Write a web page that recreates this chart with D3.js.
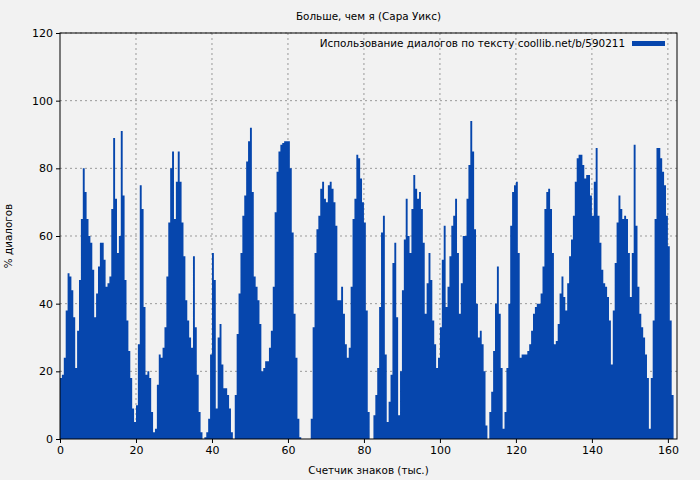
<!DOCTYPE html>
<html><head><meta charset="utf-8">
<script src="https://cdn.jsdelivr.net/npm/d3@7"></script>
<style>body{margin:0;background:#f2f2f2}svg{font-family:"DejaVu Sans",sans-serif}</style>
</head><body><svg id="c" width="700" height="480"></svg>
<script>
const title = "Больше, чем я (Сара Уикс)";
const seriesName = "Использование диалогов по тексту coollib.net/b/590211";
const xLabel = "Счетчик знаков (тыс.)";
const yLabel = "% диалогов";
const step = 0.5; // thousand characters per bar
const values = [
18,19,24,38,49,48,44,36,21,32,47,65,80,73,65,60,58,50,36,43,51,58,58,53,45,46,48,68,89,71,55,60,91,72,47,35,26,18,9,5,
10,28,75,68,39,19,20,18,8,2,3,16,25,24,27,33,48,64,80,85,65,76,85,76,64,54,41,35,30,27,54,33,19,8,2,0,0.5,2,6,25,
55,47,9,30,34,22,15,15,13,9,2,0,13,31,43,55,66,72,82,88,92,73,48,45,41,34,20,21,23,23,27,32,45,67,79,85,87,87.5,88,88,
88,80,61,37,24,6,0.5,0,0,0,0,0,6,33,55,62,66,74,76,71,70,75,76,74,70,63,41,41,45,37,28,24,27,45,65,71,84,83,77,70,
64,38,8,0,0,7,13,21,39,61,66,25,5,11,19,52,58,36,7,20,44,59,71,60,55,68,78,74,71,73,68,58,37,46,55,47,35,28,21,24,
33,53,63,39,45,54,63,66,71,55,37,46,60,60,71,81,94,85,62,40,30,32,28,20,4,0,8,14,26,40,51,37,21,3,8,21,40,63,73,75,
76,55,24,25,25,25,26,28,32,37,39,40,40,43,51,68,73,74,68,55,28,29,34,43,48,42,38,46,54,59,66,76,83,84,84,81,77,78,78,72,
66,76,86,66,58,50,46,45,42,35,22,38,52,64,72,68,65,66,65,55,42,55,87,63,45,37,33,30,25,18,3,18,35,65,86,86,83,79,75,66,
57,35,13];
const xTicks = [0,20,40,60,80,100,120,140,160];
const yTicks = [0,20,40,60,80,100,120];

const svg = d3.select("#c");
const L=60,R=677,T=33,B=439;
const x = d3.scaleLinear().domain([0,162.4]).range([L,R]);
const y = d3.scaleLinear().domain([0,120]).range([B,T]);
const data = values.map((v,i)=>({x:i*step,v}));
data.push({x:values.length*step,v:values[values.length-1]});

svg.append("g").selectAll("line.gx").data(xTicks.slice(1)).join("line")
  .attr("x1",d=>x(d)).attr("x2",d=>x(d)).attr("y1",T).attr("y2",B)
  .attr("stroke","#999").attr("stroke-dasharray","2,3");
svg.append("g").selectAll("line.gy").data(yTicks.slice(1)).join("line")
  .attr("x1",L).attr("x2",R).attr("y1",d=>y(d)).attr("y2",d=>y(d))
  .attr("stroke","#999").attr("stroke-dasharray","2,3");

const area = d3.area().curve(d3.curveStepAfter).x(d=>x(d.x)).y0(B).y1(d=>y(d.v));
svg.append("path").datum(data).attr("d",area).attr("fill","#0646ad");

svg.append("rect").attr("x",L).attr("y",T).attr("width",R-L).attr("height",B-T)
  .attr("fill","none").attr("stroke","#000");

const gx = svg.append("g").attr("transform",`translate(0,${B})`)
  .call(d3.axisBottom(x).tickValues(xTicks).tickSize(4).tickFormat(d3.format("d")));
const gy = svg.append("g").attr("transform",`translate(${L},0)`)
  .call(d3.axisLeft(y).tickValues(yTicks).tickSize(4));
[gx,gy].forEach(g=>{g.select(".domain").remove();g.selectAll("text").attr("font-size",11).attr("fill","#000").attr("font-family","DejaVu Sans");});

svg.append("text").attr("x",(L+R)/2).attr("y",20).attr("text-anchor","middle").attr("font-size",10.4).text(title);
svg.append("text").attr("x",(L+R)/2).attr("y",474).attr("text-anchor","middle").attr("font-size",10.4).text(xLabel);
svg.append("text").attr("transform",`translate(12,${(T+B)/2}) rotate(-90)`).attr("text-anchor","middle").attr("font-size",10.4).text(yLabel);
svg.append("text").attr("x",625).attr("y",47).attr("text-anchor","end").attr("font-size",10.4).text(seriesName);
svg.append("rect").attr("x",632).attr("y",41).attr("width",33).attr("height",5).attr("fill","#0646ad");
</script></body></html>
